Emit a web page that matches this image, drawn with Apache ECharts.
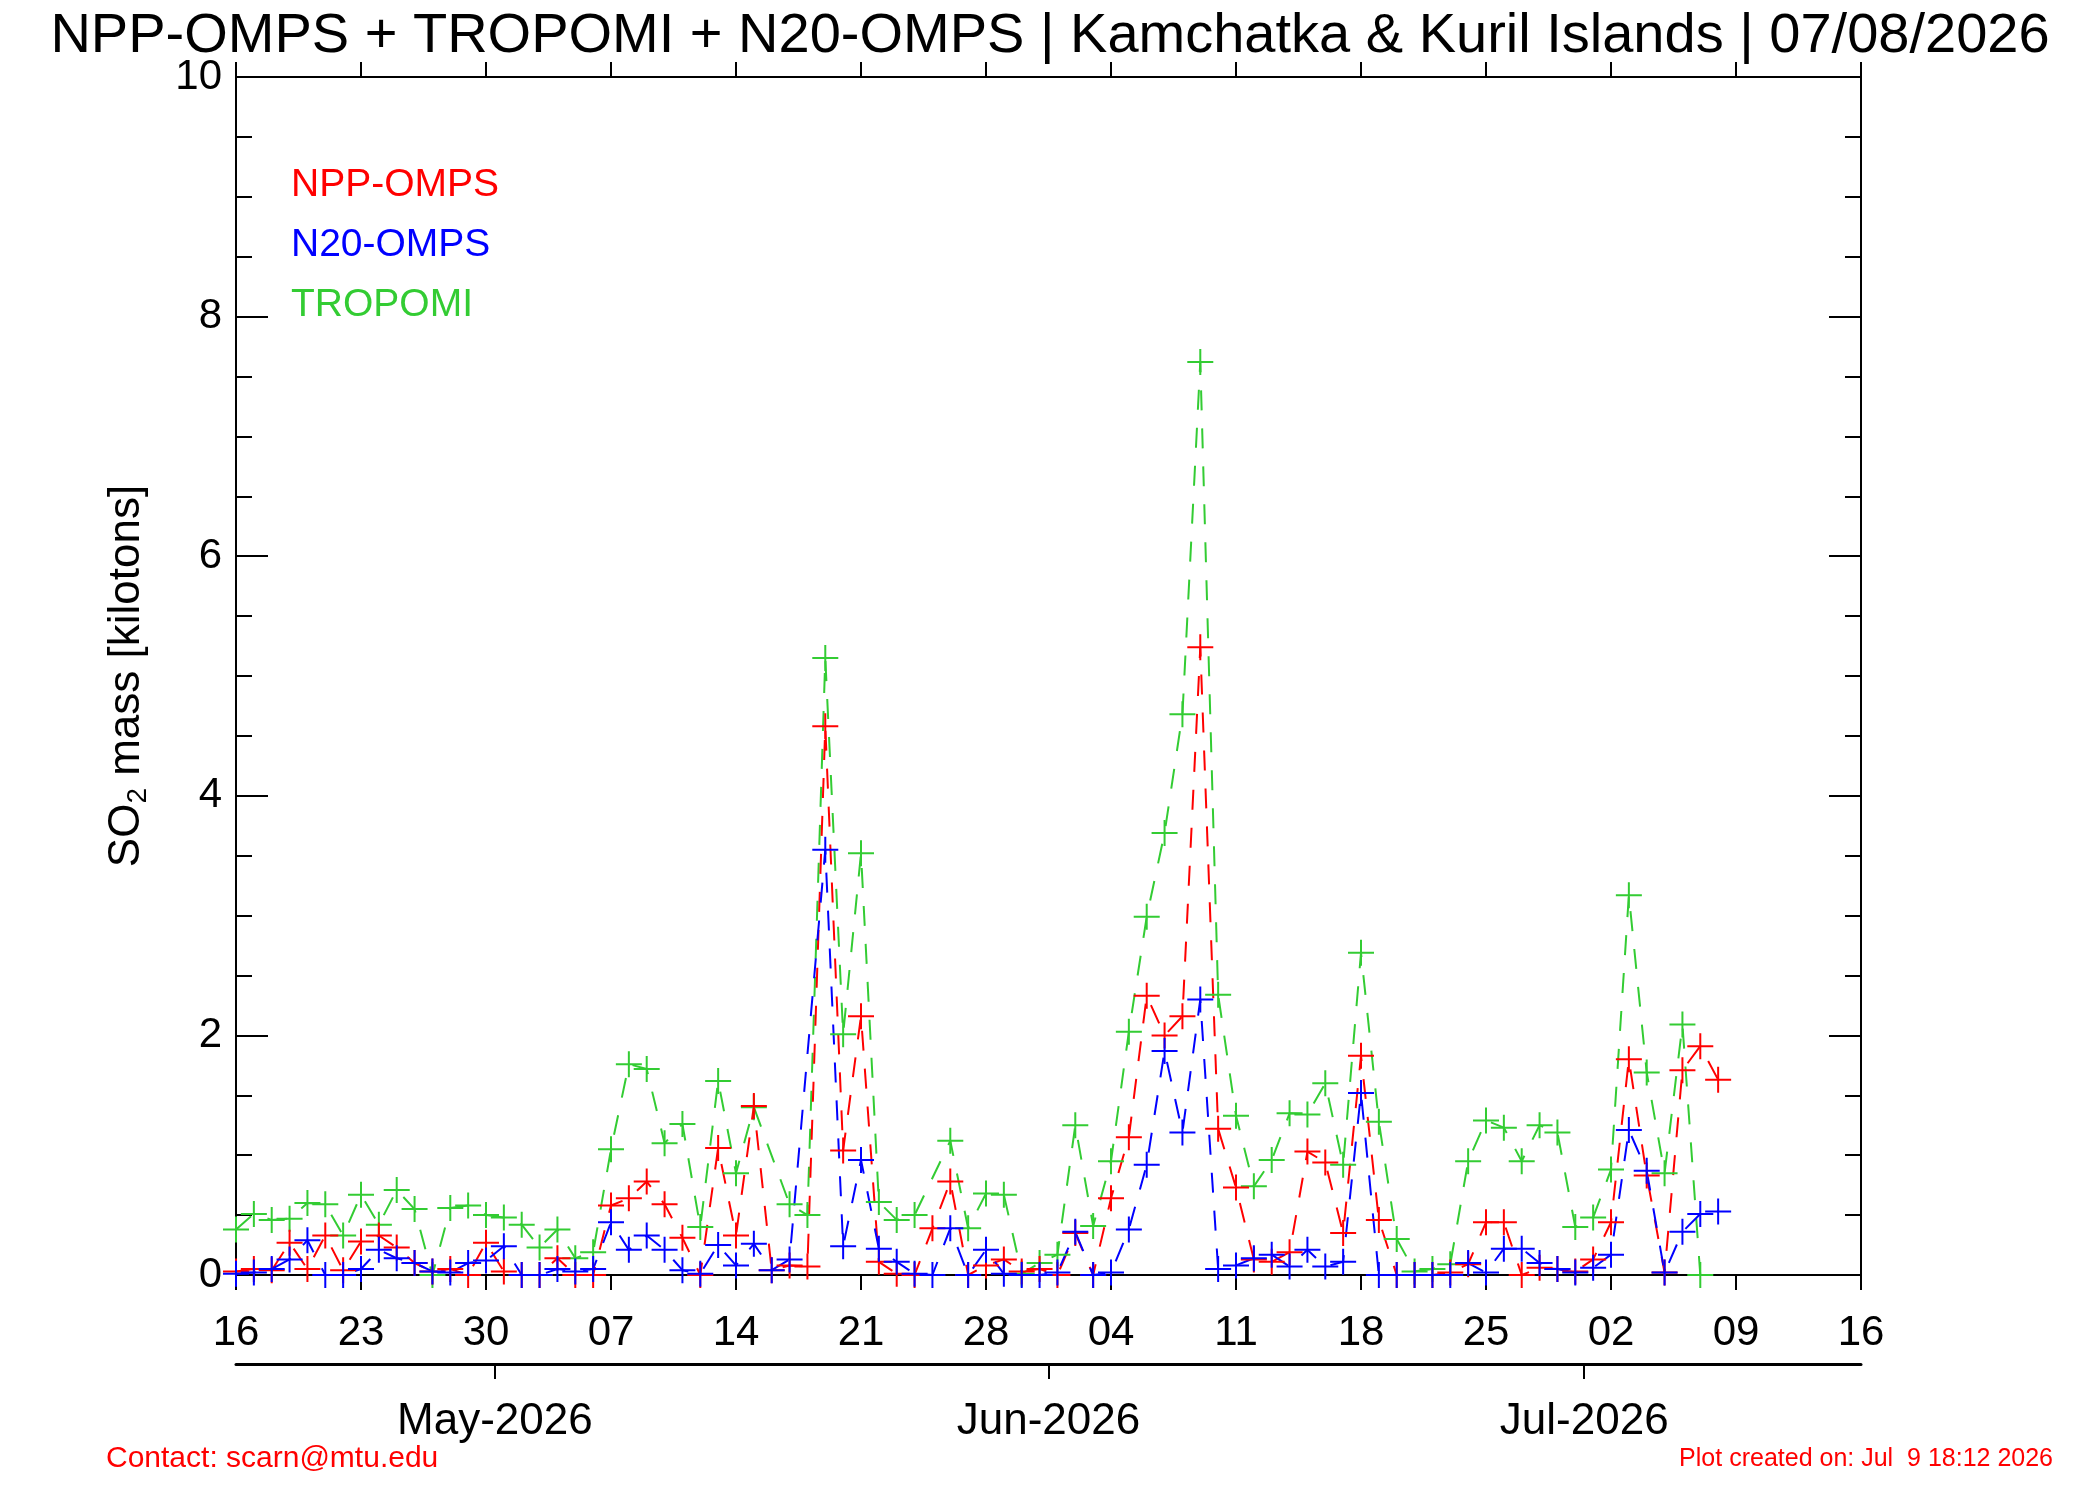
<!DOCTYPE html>
<html>
<head>
<meta charset="utf-8">
<title>SO2 mass - Kamchatka & Kuril Islands</title>
<script src="https://cdn.jsdelivr.net/npm/echarts@6/dist/echarts.min.js"></script>
<style>
  html, body { margin: 0; padding: 0; background: #fff; }
  #main { width: 2100px; height: 1500px; }
</style>
</head>
<body>
<div id="main"></div>
<script>
// daily values starting 16 Apr 2026 (index = day number), null = no point
var nppOmps = [
  0.03, 0.05, 0.04, 0.27, 0.05, 0.33, 0.04, 0.28, 0.33, 0.23,
  0.10, 0.03, 0.05, 0.00, 0.27, 0.03, 0.00, 0.00, 0.14, 0.00,
  0.00, 0.58, 0.64, 0.78, 0.59, 0.31, 0.00, 1.06, 0.33, 1.41,
  0.04, 0.08, 0.07, 4.58, 1.04, 2.16, 0.11, 0.01, 0.00, 0.39,
  0.78, 0.00, 0.08, 0.13, 0.03, 0.05, 0.00, 0.35, 0.00, 0.64,
  1.15, 2.33, 2.00, 2.16, 5.24, 1.22, 0.73, 0.13, 0.11, 0.19,
  1.03, 0.94, 0.35, 1.83, 0.46, 0.00, 0.00, 0.00, 0.02, 0.09,
  0.44, 0.44, 0.00, 0.06, 0.05, 0.03, 0.13, 0.44, 1.80, 0.83,
  0.02, 1.71, 1.91, 1.63
];

var n20Omps = [
  0.01, 0.02, 0.05, 0.13, 0.29, 0.00, 0.00, 0.05, 0.21, 0.14,
  0.10, 0.03, 0.02, 0.10, 0.12, 0.24, 0.00, 0.00, 0.05, 0.03,
  0.05, 0.44, 0.21, 0.33, 0.21, 0.04, 0.01, 0.25, 0.08, 0.26,
  0.04, 0.13, null, 3.55, 0.24, 0.96, 0.22, 0.11, 0.01, 0.00,
  0.39, 0.00, 0.21, 0.01, 0.00, 0.00, 0.02, 0.36, 0.00, 0.02,
  0.38, 0.92, 1.87, 1.19, 2.30, 0.05, 0.08, 0.14, 0.17, 0.07,
  0.21, 0.07, 0.11, 1.52, 0.00, 0.00, 0.00, 0.00, 0.00, 0.10,
  0.02, 0.22, 0.22, 0.10, 0.05, 0.02, 0.06, 0.17, 1.21, 0.87,
  0.02, 0.36, 0.51, 0.53
];

var tropomi = [
  0.38, 0.51, 0.46, 0.47, 0.60, 0.59, 0.33, 0.67, 0.42, 0.71,
  0.55, 0.00, 0.56, 0.58, 0.50, 0.48, 0.42, 0.23, 0.38, 0.14,
  0.19, 1.05, 1.76, 1.72, 1.10, 1.26, 0.40, 1.62, 0.85, 1.40,
  null, 0.59, 0.50, 5.15, 2.01, 3.52, 0.61, 0.46, 0.50, null,
  1.12, 0.39, 0.68, 0.67, 0.01, 0.10, 0.17, 1.25, 0.41, 0.95,
  2.03, 2.99, 3.69, 4.68, 7.62, 2.34, 1.33, 0.74, 0.96, 1.35,
  1.34, 1.60, 0.92, 2.69, 1.28, 0.30, 0.03, 0.05, 0.09, 0.95,
  1.29, 1.23, 0.95, 1.25, 1.19, 0.40, 0.48, 0.88, 3.17, 1.69,
  0.85, 2.09, 0.00
];

// axis labels (x axis counts days from 16 Apr 2026)
var weekLabels = ['16', '23', '30', '07', '14', '21', '28', '04', '11', '18', '25', '02', '09', '16'];
var monthDays = [14.5, 45.5, 75.5];
var monthLabels = ['May-2026', 'Jun-2026', 'Jul-2026'];

var FONT = '"Liberation Sans", Arial, Helvetica, sans-serif';
var RED = '#ff0000', BLUE = '#0000ff', GREEN = '#33cc33';
var PLUS = 'path://M0,12H26V14H0Z M12,0H14V26H12Z';

function toPairs(arr) {
  var out = [];
  for (var i = 0; i < arr.length; i++) {
    out.push([i, arr[i]]);
  }
  return out;
}

function lineSeries(name, values, color) {
  return {
    name: name,
    type: 'line',
    data: toPairs(values),
    connectNulls: true,
    symbol: PLUS,
    symbolSize: 26,
    showSymbol: true,
    animation: false,
    lineStyle: { color: color, width: 2, type: [20, 18] },
    itemStyle: { color: color, borderWidth: 0 },
    emphasis: { disabled: true }
  };
}

function monthName(v) {
  for (var i = 0; i < monthDays.length; i++) {
    if (Math.abs(monthDays[i] - v) < 0.01) return monthLabels[i];
  }
  return '';
}

var myChart = echarts.init(document.getElementById('main'));

var option = {
  backgroundColor: '#ffffff',
  title: {
    text: 'NPP-OMPS + TROPOMI + N20-OMPS | Kamchatka & Kuril Islands | 07/08/2026',
    left: 'center',
    top: 4,
    textStyle: { fontFamily: FONT, fontSize: 56, fontWeight: 'normal', color: '#000' }
  },
  legend: {
    orient: 'vertical',
    left: 281,
    top: 161,
    itemWidth: 0,
    itemHeight: 0,
    itemGap: 21,
    selectedMode: false,
    textStyle: { fontFamily: FONT, fontSize: 39 },
    data: [
      { name: 'NPP-OMPS', icon: 'none', textStyle: { color: RED } },
      { name: 'N20-OMPS', icon: 'none', textStyle: { color: BLUE } },
      { name: 'TROPOMI', icon: 'none', textStyle: { color: GREEN } }
    ]
  },
  grid: { left: 236, right: 239, top: 77, bottom: 225 },
  xAxis: [{
    type: 'value',
    position: 'bottom',
    min: 0, max: 91, interval: 7,
    axisLine: { onZero: false, lineStyle: { color: '#000', width: 2 } },
    axisTick: { inside: false, length: 15, lineStyle: { color: '#000', width: 2 } },
    axisLabel: {
      margin: 37, fontFamily: FONT, fontSize: 42, color: '#000',
      formatter: function (v) { return weekLabels[Math.round(v / 7)]; }
    },
    splitLine: { show: false }
  }, {
    type: 'value',
    position: 'top',
    min: 0, max: 91, interval: 7,
    axisLine: { onZero: false, lineStyle: { color: '#000', width: 2 } },
    axisTick: { inside: false, length: 15, lineStyle: { color: '#000', width: 2 } },
    axisLabel: { show: false },
    splitLine: { show: false }
  }, {
    type: 'value',
    position: 'bottom',
    offset: 89,
    min: 0, max: 91,
    axisLine: { onZero: false, lineStyle: { color: '#000', width: 3 } },
    axisTick: { inside: false, length: 15, customValues: monthDays, lineStyle: { color: '#000', width: 2 } },
    axisLabel: {
      margin: 36, fontFamily: FONT, fontSize: 44, color: '#000',
      customValues: monthDays,
      formatter: monthName
    },
    splitLine: { show: false }
  }],
  yAxis: [{
    type: 'value',
    position: 'left',
    min: 0, max: 10, interval: 2,
    name: 'SO{sub|2} mass [kilotons]',
    nameLocation: 'middle',
    nameGap: 84,
    nameRotate: 90,
    nameTextStyle: {
      fontFamily: FONT, fontSize: 44, color: '#000', lineHeight: 50,
      rich: {
        sub: { fontFamily: FONT, fontSize: 28, lineHeight: 28, color: '#000', verticalAlign: 'bottom' }
      }
    },
    axisLine: { show: true, onZero: false, lineStyle: { color: '#000', width: 2 } },
    axisTick: { inside: true, length: 32, lineStyle: { color: '#000', width: 2 } },
    minorTick: { show: true, splitNumber: 4, length: 16, lineStyle: { color: '#000', width: 2 } },
    axisLabel: { margin: 14, fontFamily: FONT, fontSize: 42, color: '#000' },
    splitLine: { show: false },
    minorSplitLine: { show: false }
  }, {
    type: 'value',
    position: 'right',
    min: 0, max: 10, interval: 2,
    axisLine: { show: true, onZero: false, lineStyle: { color: '#000', width: 2 } },
    axisTick: { inside: true, length: 32, lineStyle: { color: '#000', width: 2 } },
    minorTick: { show: true, splitNumber: 4, length: 16, lineStyle: { color: '#000', width: 2 } },
    axisLabel: { show: false },
    splitLine: { show: false }
  }],
  graphic: [{
    type: 'text',
    left: 106,
    top: 1444,
    style: { text: 'Contact: scarn@mtu.edu', fill: RED, font: '30px ' + FONT }
  }, {
    type: 'text',
    right: 2100 - 2053,
    top: 1447,
    style: { text: 'Plot created on: Jul  9 18:12 2026', fill: RED, font: '25px ' + FONT }
  }],
  series: [
    lineSeries('TROPOMI', tropomi, GREEN),
    lineSeries('NPP-OMPS', nppOmps, RED),
    lineSeries('N20-OMPS', n20Omps, BLUE)
  ]
};

myChart.setOption(option);
</script>
</body>
</html>
